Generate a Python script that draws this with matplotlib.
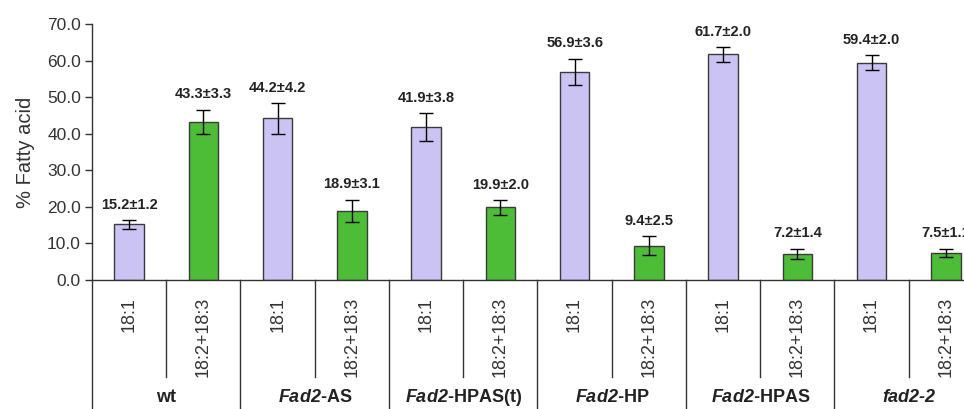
import numpy as np
import matplotlib
matplotlib.use("Agg")
import matplotlib.pyplot as plt

plt.rcParams['font.family'] = ['Liberation Sans', 'DejaVu Sans']
plt.rcParams['mathtext.fontset'] = 'custom'
plt.rcParams['mathtext.rm'] = 'Liberation Sans'
plt.rcParams['mathtext.bf'] = 'Liberation Sans:bold'
plt.rcParams['mathtext.bfit'] = 'Liberation Sans:italic:bold'

# fatty acid composition per line: 18:1 and 18:2+18:3 (mean, sd)
groups = [r"wt", r"$\mathbfit{Fad2}$-AS", r"$\mathbfit{Fad2}$-HPAS(t)",
          r"$\mathbfit{Fad2}$-HP", r"$\mathbfit{Fad2}$-HPAS", "fad2-2"]
italic_group = [False, False, False, False, False, True]
subcats = ["18:1", "18:2+18:3"]
oleic = [15.2, 44.2, 41.9, 56.9, 61.7, 59.4]
oleic_sd = [1.2, 4.2, 3.8, 3.6, 2.0, 2.0]
poly = [43.3, 18.9, 19.9, 9.4, 7.2, 7.5]
poly_sd = [3.3, 3.1, 2.0, 2.5, 1.4, 1.1]

lavender = "#cbc3f3"
green = "#4dbd38"
edge = "#3a3a3a"
ink = "#333333"

W, H = 964, 409
fig = plt.figure(figsize=(W / 100, H / 100), dpi=100)
x0, x1 = 92, 983
y0, y1 = 280, 24
ax = fig.add_axes([x0 / W, (H - y0) / H, (x1 - x0) / W, (y0 - y1) / H])

n = len(groups)
pos1 = np.arange(n) * 2 + 0.5
pos2 = pos1 + 1
bw = 0.4
ekw = dict(ecolor="black", elinewidth=1.0, capsize=5, capthick=1.0)
ax.bar(pos1, oleic, bw, yerr=oleic_sd, color=lavender, edgecolor=edge,
       linewidth=1.0, error_kw=ekw, zorder=2)
ax.bar(pos2, poly, bw, yerr=poly_sd, color=green, edgecolor=edge,
       linewidth=1.0, error_kw=ekw, zorder=2)

for xs, vals, sds in [(pos1, oleic, oleic_sd), (pos2, poly, poly_sd)]:
    for x, v, s in zip(xs, vals, sds):
        ax.annotate(f"{v:.1f}±{s:.1f}", (x, v + s), xytext=(0, 6),
                    textcoords="offset points", ha="center", va="bottom",
                    fontsize=10.5, fontweight="bold", color="#222222")

ax.set_xlim(0, 2 * n)
ax.set_ylim(0, 70)
ticks = np.arange(0, 71, 10)
ax.set_yticks(ticks)
ax.set_yticklabels([f"{t:.1f}" for t in ticks], fontsize=12.5, color=ink)
ax.tick_params(axis="y", direction="out", length=5, width=1, colors=ink,
               labelcolor=ink, pad=3)
ax.set_xticks([])
ax.set_ylabel("% Fatty acid", fontsize=14.5, color=ink, labelpad=9)
for side in ["top", "right"]:
    ax.spines[side].set_visible(False)
for side in ["left", "bottom"]:
    ax.spines[side].set_color(ink)
    ax.spines[side].set_linewidth(1.0)

# category table below the axis
trans = ax.get_xaxis_transform()
px = 1.0 / (y0 - y1)
sub_bottom = -(377 - y0) * px
fig_bottom = -(H - y0 + 5) * px
for g in range(n):
    left = 2 * g
    ax.plot([left, left], [0, fig_bottom], transform=trans, color=ink,
            lw=1.0, clip_on=False)
    ax.plot([left + 1, left + 1], [0, sub_bottom], transform=trans,
            color=ink, lw=1.0, clip_on=False)
    for k, lab in enumerate(subcats):
        ax.text(left + 0.5 + k, -17 * px, lab, transform=trans, rotation=90,
                ha="center", va="top", fontsize=13, color=ink)
    ax.text(left + 1, -(398 - y0) * px, groups[g], transform=trans,
            ha="center", va="center", fontsize=13, fontweight="bold",
            fontstyle="italic" if italic_group[g] else "normal",
            color="#222222")

fig.savefig("out.png", dpi=100)
